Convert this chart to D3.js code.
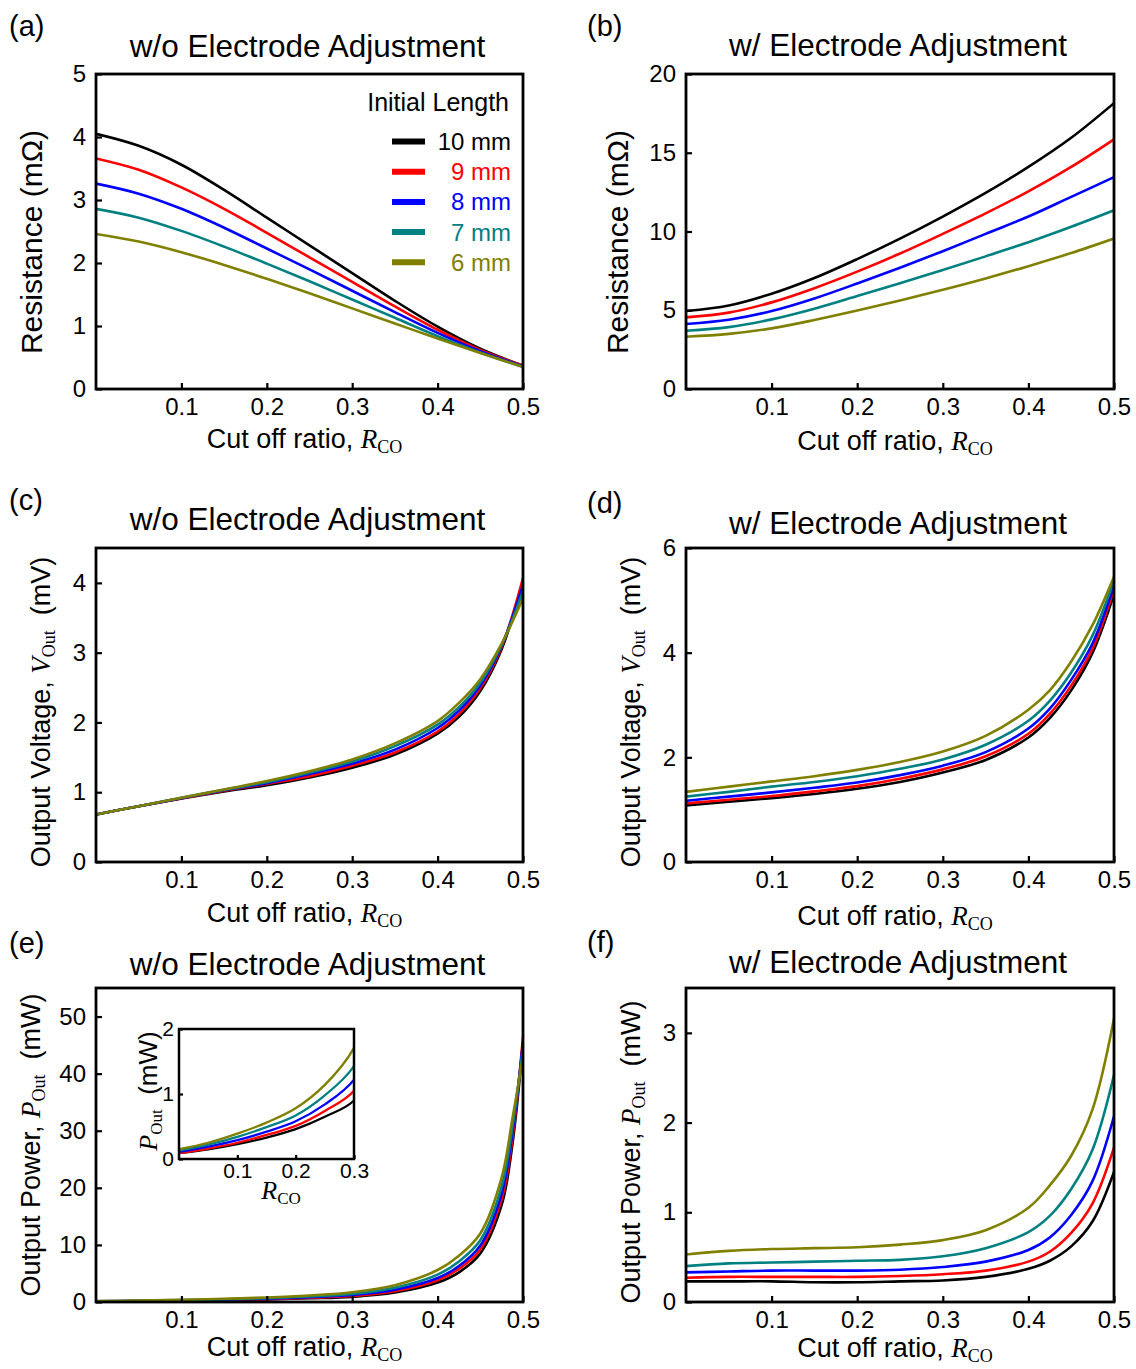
<!DOCTYPE html>
<html>
<head>
<meta charset="utf-8">
<script src="https://cdn.jsdelivr.net/npm/d3@7"></script>
<style>
  html, body { margin: 0; padding: 0; background: #fff; }
  svg text { font-family: "Liberation Sans", Arial, sans-serif; fill: #000; white-space: pre; }
</style>
</head>
<body>
<svg id="fig" width="1136" height="1369"></svg>
<script>
// ---- series definitions -------------------------------------------------
const lengths = ["10 mm", "9 mm", "8 mm", "7 mm", "6 mm"];
const lengthColors = ["#000000", "#ff0000", "#0000ff", "#008080", "#808000"];

// cut-off ratio samples
const rcoEven  = [0, 0.05, 0.1, 0.15, 0.2, 0.25, 0.3, 0.35, 0.4, 0.45, 0.5];
const rcoSteep = [0, 0.05, 0.1, 0.15, 0.2, 0.25, 0.3, 0.35, 0.4, 0.425, 0.45, 0.475, 0.5];
const rcoPower = [0, 0.05, 0.1, 0.15, 0.2, 0.25, 0.3, 0.35, 0.4, 0.425, 0.45, 0.475, 0.4875, 0.5];

// (a) resistance without electrode adjustment, mΩ (rows follow `lengths`)
const resistanceWo = [
  [4.05, 3.86, 3.56, 3.16, 2.72, 2.28, 1.84, 1.40, 0.99, 0.64, 0.37],
  [3.66, 3.48, 3.20, 2.86, 2.48, 2.09, 1.70, 1.31, 0.94, 0.62, 0.37],
  [3.26, 3.10, 2.86, 2.56, 2.23, 1.90, 1.56, 1.22, 0.89, 0.60, 0.36],
  [2.86, 2.72, 2.51, 2.26, 1.99, 1.71, 1.42, 1.13, 0.84, 0.58, 0.35],
  [2.46, 2.34, 2.17, 1.97, 1.75, 1.52, 1.28, 1.04, 0.80, 0.57, 0.35]
];

// (b) resistance with electrode adjustment, mΩ
const resistanceW = [
  [4.95, 5.30, 6.05, 7.05, 8.25, 9.55, 10.95, 12.45, 14.10, 15.95, 18.15],
  [4.55, 4.85, 5.50, 6.40, 7.45, 8.60, 9.85, 11.15, 12.55, 14.10, 15.85],
  [4.13, 4.40, 4.95, 5.75, 6.70, 7.70, 8.75, 9.85, 10.95, 12.20, 13.45],
  [3.70, 3.93, 4.42, 5.10, 5.90, 6.72, 7.55, 8.42, 9.32, 10.30, 11.35],
  [3.32, 3.50, 3.85, 4.38, 4.98, 5.62, 6.30, 7.02, 7.80, 8.63, 9.55]
];

// (c) output voltage without electrode adjustment, mV
const voltageWo = [
  [0.68, 0.80, 0.91, 1.01, 1.10, 1.21, 1.35, 1.54, 1.84, 2.08, 2.45, 3.05, 4.02],
  [0.68, 0.80, 0.91, 1.02, 1.12, 1.23, 1.38, 1.57, 1.87, 2.12, 2.49, 3.08, 4.07],
  [0.68, 0.80, 0.915, 1.03, 1.13, 1.26, 1.41, 1.61, 1.92, 2.17, 2.53, 3.10, 3.97],
  [0.68, 0.80, 0.92, 1.035, 1.145, 1.28, 1.44, 1.66, 1.97, 2.22, 2.57, 3.11, 3.88],
  [0.68, 0.80, 0.92, 1.04, 1.16, 1.30, 1.47, 1.70, 2.02, 2.28, 2.62, 3.13, 3.78]
];

// (d) output voltage with electrode adjustment, mV
const voltageW = [
  [1.08, 1.15, 1.22, 1.30, 1.40, 1.53, 1.71, 1.95, 2.38, 2.75, 3.28, 4.00, 5.12],
  [1.12, 1.19, 1.26, 1.35, 1.45, 1.59, 1.77, 2.02, 2.45, 2.83, 3.37, 4.08, 5.20],
  [1.17, 1.25, 1.33, 1.42, 1.52, 1.66, 1.84, 2.10, 2.55, 2.93, 3.48, 4.18, 5.28],
  [1.25, 1.34, 1.44, 1.53, 1.64, 1.78, 1.96, 2.24, 2.70, 3.08, 3.62, 4.33, 5.38],
  [1.34, 1.44, 1.54, 1.64, 1.76, 1.91, 2.11, 2.41, 2.91, 3.28, 3.83, 4.53, 5.45]
];

// (e) output power without electrode adjustment, mW (also used by the inset)
const powerWo = [
  [0.09, 0.15, 0.23, 0.33, 0.46, 0.65, 0.90, 1.65, 3.4, 5.2, 8.5, 17.0, 27.5, 45.5],
  [0.09, 0.16, 0.25, 0.37, 0.51, 0.74, 1.05, 1.90, 3.8, 5.8, 9.2, 18.0, 28.5, 46.5],
  [0.11, 0.19, 0.29, 0.42, 0.58, 0.84, 1.22, 2.15, 4.2, 6.3, 9.9, 19.0, 29.5, 45.5],
  [0.13, 0.22, 0.34, 0.49, 0.67, 0.98, 1.43, 2.50, 4.8, 7.1, 10.8, 20.2, 30.5, 44.5],
  [0.15, 0.25, 0.39, 0.56, 0.78, 1.14, 1.71, 2.95, 5.6, 8.1, 12.0, 21.8, 32.0, 43.0]
];

// (f) output power with electrode adjustment, mW
const powerW = [
  [0.23, 0.23, 0.23, 0.22, 0.22, 0.23, 0.24, 0.28, 0.37, 0.46, 0.62, 0.90, 1.45],
  [0.27, 0.28, 0.28, 0.28, 0.28, 0.29, 0.31, 0.35, 0.45, 0.56, 0.77, 1.10, 1.72],
  [0.33, 0.34, 0.35, 0.35, 0.35, 0.36, 0.39, 0.45, 0.58, 0.72, 0.97, 1.35, 2.07],
  [0.40, 0.43, 0.44, 0.45, 0.46, 0.47, 0.51, 0.60, 0.78, 0.96, 1.26, 1.70, 2.53],
  [0.53, 0.57, 0.59, 0.60, 0.61, 0.64, 0.69, 0.80, 1.05, 1.30, 1.63, 2.15, 3.16]
];

// axis tick values
const xTickMain  = [0.1, 0.2, 0.3, 0.4, 0.5];
const xTickInset = [0.1, 0.2, 0.3];
const yTicksA = [0, 1, 2, 3, 4, 5];
const yTicksB = [0, 5, 10, 15, 20];
const yTicksC = [0, 1, 2, 3, 4];
const yTicksD = [0, 2, 4, 6];
const yTicksE = [0, 10, 20, 30, 40, 50];
const yTicksF = [0, 1, 2, 3];
const yTicksInset = [0, 1, 2];

// ---- drawing helpers ---------------------------------------------------
const svg = d3.select("#fig");
const SERIF = '"Liberation Serif", "Times New Roman", serif';
let clipCount = 0;

// text made of runs; a run may be serif/italic/subscripted
function richText(parent, runs, size) {
  const t = parent.append("text").style("font-size", size + "px");
  let shift = 0;
  runs.forEach(r => {
    const ts = t.append("tspan").text(r.t);
    if (r.serif) ts.style("font-family", SERIF);
    if (r.italic) ts.style("font-style", "italic");
    const target = r.sub ? Math.round(size * 0.2) : 0;
    if (target !== shift) { ts.attr("dy", target - shift); shift = target; }
    if (r.sub) ts.style("font-size", Math.round(size * 0.66) + "px");
  });
  return t;
}

const rcoLabel = [
  { t: "Cut off ratio, " },
  { t: "R", serif: true, italic: true },
  { t: "CO", serif: true, sub: true }
];
const vLabel = [
  { t: "Output Voltage, " },
  { t: "V", serif: true, italic: true },
  { t: "Out", serif: true, sub: true },
  { t: "  (mV)" }
];
const pLabel = [
  { t: "Output Power, " },
  { t: "P", serif: true, italic: true },
  { t: "Out", serif: true, sub: true },
  { t: "  (mW)" }
];

function plotArea(cfg) {
  const g = svg.append("g").attr("transform", `translate(${cfg.left},${cfg.top})`);
  const w = cfg.right - cfg.left, h = cfg.bottom - cfg.top;
  const x = d3.scaleLinear().domain([0, cfg.xMax]).range([0, w]);
  const y = d3.scaleLinear().domain([0, cfg.yMax]).range([h, 0]);

  if (cfg.fill) g.append("rect").attr("width", w).attr("height", h).attr("fill", "#fff");

  const id = "clip" + (clipCount++);
  g.append("clipPath").attr("id", id).append("rect").attr("width", w).attr("height", h);

  const line = d3.line()
    .x((d, i) => x(cfg.xs[i]))
    .y(d => y(d))
    .curve(d3.curveCatmullRom.alpha(0.5));

  g.append("g").attr("clip-path", `url(#${id})`)
    .selectAll("path")
    .data(cfg.series)
    .join("path")
    .attr("d", d => line(d))
    .attr("fill", "none")
    .attr("stroke", (d, i) => lengthColors[i])
    .attr("stroke-width", cfg.lineWidth || 2.6)
    .attr("stroke-linejoin", "round");

  const tickFont = cfg.tickFont || 24;
  const tick = cfg.tickLen || 6;

  const xa = g.append("g").attr("transform", `translate(0,${h})`)
    .call(d3.axisBottom(x).tickValues(cfg.xTicks).tickFormat(d3.format(".1f"))
      .tickSize(-tick).tickPadding(cfg.xPad || 9));
  const ya = g.append("g")
    .call(d3.axisLeft(y).tickValues(cfg.yTicks).tickFormat(d3.format("d"))
      .tickSize(-tick).tickPadding(cfg.yPad || 10));
  [xa, ya].forEach(a => {
    a.attr("font-family", null).attr("font-size", null);
    a.select(".domain").remove();
    a.selectAll(".tick line").attr("stroke", "#000").attr("stroke-width", 2.2);
    a.selectAll(".tick text").style("font-size", tickFont + "px");
  });

  g.append("rect").attr("width", w).attr("height", h)
    .attr("fill", "none").attr("stroke", "#000").attr("stroke-width", cfg.frameWidth || 2.8);
  return { g, x, y };
}

function panel(cfg) {
  plotArea(cfg);
  svg.append("text").text(cfg.tag).attr("x", cfg.tagX).attr("y", cfg.tagY).style("font-size", "29px");
  svg.append("text").text(cfg.title).attr("x", (cfg.left + cfg.right) / 2 - 2).attr("y", cfg.titleY)
    .attr("text-anchor", "middle").style("font-size", "31.5px");
  const xl = richText(svg, rcoLabel, 27);
  xl.attr("x", (cfg.left + cfg.right) / 2 - 5).attr("y", cfg.xLabelY).attr("text-anchor", "middle");
  const yl = richText(svg.append("g").attr("transform", `translate(${cfg.yLabelX},${cfg.yLabelCY}) rotate(-90)`),
    cfg.yLabel, cfg.yLabelSize);
  yl.attr("text-anchor", "middle");
}

const colL = { left: 96, right: 523 };
const colR = { left: 686, right: 1114 };
const row1 = { top: 74, bottom: 389 };
const row2 = { top: 548, bottom: 862 };
const row3 = { top: 988, bottom: 1302 };

// (a)
panel({ ...colL, ...row1, xMax: 0.5, yMax: 5, xs: rcoEven, series: resistanceWo,
  xTicks: xTickMain, yTicks: yTicksA, tag: "(a)", tagX: 9, tagY: 36,
  title: "w/o Electrode Adjustment", titleY: 57, xLabelY: 448,
  yLabel: [{ t: "Resistance (mΩ)" }], yLabelSize: 30, yLabelX: 42, yLabelCY: 242 });

// (b)
panel({ ...colR, ...row1, xMax: 0.5, yMax: 20, xs: rcoEven, series: resistanceW,
  xTicks: xTickMain, yTicks: yTicksB, tag: "(b)", tagX: 587, tagY: 36,
  title: "w/ Electrode Adjustment", titleY: 56, xLabelY: 450,
  yLabel: [{ t: "Resistance (mΩ)" }], yLabelSize: 30, yLabelX: 628, yLabelCY: 242 });

// (c)
panel({ ...colL, ...row2, xMax: 0.5, yMax: 4.5, xs: rcoSteep, series: voltageWo,
  xTicks: xTickMain, yTicks: yTicksC, tag: "(c)", tagX: 9, tagY: 510,
  title: "w/o Electrode Adjustment", titleY: 530, xLabelY: 922,
  yLabel: vLabel, yLabelSize: 27, yLabelX: 50, yLabelCY: 712 });

// (d)
panel({ ...colR, ...row2, xMax: 0.5, yMax: 6, xs: rcoSteep, series: voltageW,
  xTicks: xTickMain, yTicks: yTicksD, tag: "(d)", tagX: 587, tagY: 513,
  title: "w/ Electrode Adjustment", titleY: 534, xLabelY: 925,
  yLabel: vLabel, yLabelSize: 27, yLabelX: 640, yLabelCY: 712 });

// (e)
panel({ ...colL, ...row3, xMax: 0.5, yMax: 55, xs: rcoPower, series: powerWo,
  xTicks: xTickMain, yTicks: yTicksE, tag: "(e)", tagX: 9, tagY: 953,
  title: "w/o Electrode Adjustment", titleY: 975, xLabelY: 1356,
  yLabel: pLabel, yLabelSize: 27, yLabelX: 40, yLabelCY: 1145 });

// (f)
panel({ ...colR, ...row3, xMax: 0.5, yMax: 3.5, xs: rcoSteep, series: powerW,
  xTicks: xTickMain, yTicks: yTicksF, tag: "(f)", tagX: 587, tagY: 952,
  title: "w/ Electrode Adjustment", titleY: 973, xLabelY: 1357,
  yLabel: pLabel, yLabelSize: 27, yLabelX: 640, yLabelCY: 1152 });

// inset of (e): low cut-off ratio range
plotArea({ left: 179, right: 354, top: 1029, bottom: 1159, xMax: 0.3, yMax: 2,
  xs: rcoPower, series: powerWo, xTicks: xTickInset, yTicks: yTicksInset,
  tickFont: 21, tickLen: 4, xPad: 4, yPad: 5, fill: true, lineWidth: 2.3, frameWidth: 2.5 });
richText(svg.append("g").attr("transform", "translate(157,1091) rotate(-90)"),
  [{ t: "P", serif: true, italic: true }, { t: "Out", serif: true, sub: true }, { t: "  (mW)" }], 26)
  .attr("text-anchor", "middle");
richText(svg, [{ t: "R", serif: true, italic: true }, { t: "CO", serif: true, sub: true }], 26)
  .attr("x", 281).attr("y", 1199).attr("text-anchor", "middle");

// legend of panel (a)
const legend = svg.append("g");
legend.append("text").text("Initial Length").attr("x", 509).attr("y", 111)
  .attr("text-anchor", "end").style("font-size", "25px");
lengths.forEach((name, i) => {
  const cy = 141.5 + i * 30.2;
  legend.append("line").attr("x1", 392).attr("x2", 425).attr("y1", cy).attr("y2", cy)
    .attr("stroke", lengthColors[i]).attr("stroke-width", 6);
  legend.append("text").text(name).attr("x", 511).attr("y", cy + 8.5)
    .attr("text-anchor", "end").style("font-size", "24px").style("fill", lengthColors[i]);
});
</script>
</body>
</html>
